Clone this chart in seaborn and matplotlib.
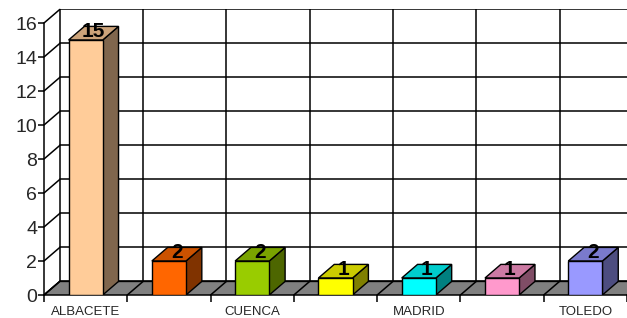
import matplotlib
matplotlib.use("Agg")
import matplotlib.pyplot as plt
import seaborn as sns
from matplotlib.patches import Polygon

categories = ["ALBACETE", "CAT2", "CUENCA", "CAT4", "MADRID", "CAT6", "TOLEDO"]
tick_labels = ["ALBACETE", "", "CUENCA", "", "MADRID", "", "TOLEDO"]
values = [15, 2, 2, 1, 1, 1, 2]
front_colors = ["#FFCC99", "#FF6600", "#99CC00", "#FFFF00", "#00FFFF", "#FF99CC", "#9999FF"]
y_ticks = [0, 2, 4, 6, 8, 10, 12, 14, 16]

sns.set_style("white")
plt.rcParams['font.family'] = ['Liberation Sans', 'DejaVu Sans']

W, H = 627, 318
fig = plt.figure(figsize=(W / 100, H / 100), dpi=100)
ax = fig.add_axes([44 / W, 23 / H, 583 / W, (16.8 * 17) / H])

DX, DY = 0.19, 0.8
x0, x1 = -0.5, 6.5
ymax = 16
LW = 1.1

ax.set_xlim(x0, x1 + 5 / 82.6)
ax.set_ylim(0, ymax + DY)
for s in ax.spines.values():
    s.set_visible(False)

# back wall gridlines
for v in y_ticks:
    ax.plot([x0 + DX, x1 + 1], [v + DY, v + DY], color="black", lw=LW, zorder=1, clip_on=True)
    ax.plot([x0, x0 + DX], [v, v + DY], color="black", lw=LW, zorder=1, clip_on=False)
for i in range(8):
    ax.plot([x0 + DX + i, x0 + DX + i], [DY, ymax + DY], color="black", lw=LW, zorder=1)

# floor
floor = Polygon([(x0, 0), (x1, 0), (x1 + DX, DY), (x0 + DX, DY)], closed=True,
                facecolor="#808080", edgecolor="black", lw=LW, zorder=2, clip_on=False)
ax.add_patch(floor)
for i in range(8):
    ax.plot([x0 + i, x0 + DX + i], [0, DY], color="black", lw=LW, zorder=2.5, clip_on=False)

# front y-axis line
ax.plot([x0, x0], [0, ymax], color="black", lw=LW, zorder=3, clip_on=False)

sns.barplot(x=categories, y=values, hue=categories, palette=front_colors, order=categories,
            hue_order=categories, width=0.41, edgecolor="black", linewidth=1.0,
            legend=False, ax=ax, zorder=5, saturation=1)

def shade(c, f):
    r, g, b = matplotlib.colors.to_rgb(c)
    return (r * f, g * f, b * f)

bars = sorted([p for p in ax.patches if p is not floor], key=lambda p: p.get_x())
for p, col, val in zip(bars, front_colors, values):
    bx0 = p.get_x()
    bx1 = bx0 + p.get_width()
    h = p.get_height()
    side = Polygon([(bx1, 0), (bx1 + DX, DY), (bx1 + DX, h + DY), (bx1, h)], closed=True,
                   facecolor=shade(col, 0.5), edgecolor="black", lw=1.0, zorder=4)
    top = Polygon([(bx0, h), (bx1, h), (bx1 + DX, h + DY), (bx0 + DX, h + DY)], closed=True,
                  facecolor=shade(col, 0.8), edgecolor="black", lw=1.0, zorder=4)
    ax.add_patch(side)
    ax.add_patch(top)
    ax.text((bx0 + bx1) / 2 + DX / 2, h + 0.2, f"{val}", ha="center", va="baseline",
            fontsize=15, fontweight="bold", color="black", zorder=6)

ax.set_yticks(y_ticks)
ax.set_yticklabels([str(v) for v in y_ticks], fontsize=14)
ax.tick_params(axis="y", left=True, length=4, width=LW, color="black", pad=1, direction="out")
ax.set_xticks(range(len(categories)))
ax.set_xticklabels(tick_labels, fontsize=9.5)
ax.set_xticks([x0 + i for i in range(8)], minor=True)
ax.tick_params(axis="x", which="major", length=0, pad=8)
ax.tick_params(axis="x", which="minor", bottom=True, length=5, width=LW, color="black", direction="out")
ax.set_xlabel("")
ax.set_ylabel("")
ax.grid(False)

fig.savefig("out.png", dpi=100)
